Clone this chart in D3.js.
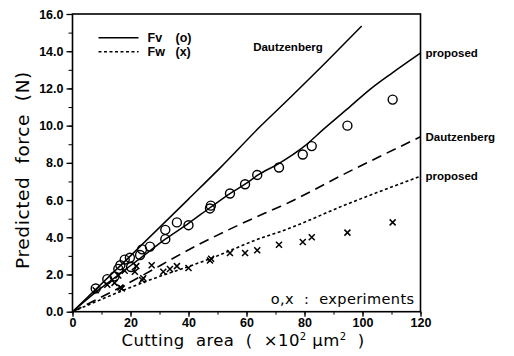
<!DOCTYPE html>
<html>
<head>
<meta charset="utf-8">
<script src="https://cdn.jsdelivr.net/npm/d3@7"></script>
<style>
  body { margin: 0; background: #fff; }
  svg text { fill: #000; white-space: pre; }
</style>
</head>
<body>
<div id="chart"></div>
<script>
// experiments: Fv (circles) and Fw (crosses), cutting area in 10^2 um^2, force in N
var fvPoints = [[8,1.25],[12,1.75],[14.5,1.9],[15.8,2.3],[16.5,2.5],[18,2.8],[19.8,2.9],[20.2,2.4],
  [23.3,3.05],[24,3.35],[26.7,3.5],[32,3.9],[32,4.4],[36,4.8],[40,4.65],[47.4,5.55],[47.7,5.7],
  [54.3,6.35],[59.5,6.85],[63.7,7.35],[71.2,7.75],[79.4,8.45],[82.5,8.9],[94.8,10.0],[110.4,11.4]];
var fwPoints = [[8,1.15],[12,1.45],[14.5,1.55],[15.8,1.95],[16.5,1.3],[17,1.25],[18,2.2],[21.5,2.15],
  [22,2.45],[24,1.7],[24.4,1.8],[27.3,2.5],[31.3,2.15],[33.6,2.3],[36,2.45],[40,2.35],[47.4,2.75],
  [47.8,2.85],[54.3,3.15],[59.5,3.15],[63.7,3.3],[71.2,3.6],[79.4,3.75],[82.5,4.0],[94.8,4.25],[110.4,4.8]];

// predicted curves
var fvDautz = [[0,0],[20,3.0],[40,6.05],[50.9,7.73],[64.7,9.95],[75,11.5],[88,13.5],[99.7,15.35]];
var fvProposed = [[0,0],[8,1.05],[16,2.0],[24,2.95],[32,3.9],[40,4.75],[47.5,5.6],[54.3,6.35],[59.5,6.85],
  [64,7.35],[71,7.95],[80,8.9],[86.5,9.8],[94.8,10.9],[102.6,11.95],[110.4,12.85],[120,13.9]];
var fwDautz = [[0,0],[20,1.6],[44,3.65],[66.4,5.3],[71.6,5.65],[95,7.5],[120,9.4]];
var fwProposed = [[0,0],[24,1.55],[47.5,2.85],[65.8,4.0],[71.6,4.3],[95,5.8],[120,7.28]];

var xTicks = [0, 20, 40, 60, 80, 100, 120];
var yTicks = [0, 2, 4, 6, 8, 10, 12, 14, 16];

var W = 514, H = 356;
var margin = { top: 14, right: 93.5, bottom: 44.3, left: 72.5 },
  width = W - margin.left - margin.right,
  height = H - margin.top - margin.bottom;

var x = d3.scaleLinear().domain([0, 120]).range([0, width]);
var y = d3.scaleLinear().domain([0, 16]).range([height, 0]);

var svg = d3.select("#chart").append("svg")
  .attr("width", W).attr("height", H);
var g = svg.append("g").attr("transform", `translate(${margin.left},${margin.top})`);

var tickFont = "'Liberation Sans', Arial, sans-serif";
var labelFont = "'DejaVu Sans', sans-serif";

// minor ticks
g.append("g")
  .attr("transform", `translate(0,${height})`)
  .call(d3.axisBottom(x).tickValues(d3.range(0, 121, 10)).tickSize(3).tickFormat(""))
  .call(a => a.select(".domain").remove());
g.append("g")
  .call(d3.axisLeft(y).tickValues(d3.range(0, 17, 1)).tickSize(4).tickFormat(""))
  .call(a => a.select(".domain").remove());

// major ticks
var xAxis = g.append("g")
  .attr("transform", `translate(0,${height})`)
  .call(d3.axisBottom(x).tickValues(xTicks).tickSize(5).tickPadding(1).tickFormat(d3.format("d")));
var yAxis = g.append("g")
  .call(d3.axisLeft(y).tickValues(yTicks).tickSize(6).tickPadding(3).tickFormat(d3.format(".1f")));

[xAxis, yAxis].forEach(a => {
  a.selectAll("text").style("font-family", tickFont).style("font-size", "12.5px")
    .style("font-weight", "bold").attr("fill", "#000");
  a.selectAll("line").attr("stroke", "#000").attr("stroke-width", 1.3);
  a.select(".domain").remove();
});

// frame
g.append("rect").attr("x", 0).attr("y", 0).attr("width", width).attr("height", height)
  .attr("fill", "none").attr("stroke", "#000").attr("stroke-width", 1.6);

var line = d3.line().curve(d3.curveMonotoneX).x(d => x(d[0])).y(d => y(d[1]));

g.append("path").datum(fvDautz).attr("d", line)
  .attr("fill", "none").attr("stroke", "#000").attr("stroke-width", 1.5);
g.append("path").datum(fvProposed).attr("d", line)
  .attr("fill", "none").attr("stroke", "#000").attr("stroke-width", 1.5);
g.append("path").datum(fwDautz).attr("d", line)
  .attr("fill", "none").attr("stroke", "#000").attr("stroke-width", 1.6)
  .attr("stroke-dasharray", "10,6");
g.append("path").datum(fwProposed).attr("d", line)
  .attr("fill", "none").attr("stroke", "#000").attr("stroke-width", 1.6)
  .attr("stroke-dasharray", "3,2.5");

// circles
g.selectAll(".fv").data(fvPoints).enter().append("circle")
  .attr("class", "fv")
  .attr("cx", d => x(d[0])).attr("cy", d => y(d[1])).attr("r", 4.5)
  .attr("fill", "none").attr("stroke", "#000").attr("stroke-width", 1.4);

// crosses
var cs = 3;
g.selectAll(".fw").data(fwPoints).enter().append("path")
  .attr("class", "fw")
  .attr("d", d => {
    var cx = x(d[0]), cy = y(d[1]);
    return `M${cx - cs},${cy - cs}L${cx + cs},${cy + cs}M${cx - cs},${cy + cs}L${cx + cs},${cy - cs}`;
  })
  .attr("fill", "none").attr("stroke", "#000").attr("stroke-width", 1.5);

// curve labels
var lblStyle = s => s.style("font-family", tickFont).style("font-size", "11.5px").style("font-weight", "bold");
g.append("text").attr("x", x(62.3)).attr("y", 37).text("Dautzenberg").call(lblStyle);
g.append("text").attr("x", width + 5).attr("y", y(13.9) + 4).text("proposed").call(lblStyle);
g.append("text").attr("x", width + 5).attr("y", y(9.4) + 4).text("Dautzenberg").call(lblStyle);
g.append("text").attr("x", width + 5).attr("y", y(7.28) + 4).text("proposed").call(lblStyle);

// legend
var leg = g.append("g");
leg.append("line").attr("x1", 26).attr("x2", 66).attr("y1", 23.7).attr("y2", 23.7)
  .attr("stroke", "#000").attr("stroke-width", 1.4);
leg.append("line").attr("x1", 26).attr("x2", 66).attr("y1", 37.7).attr("y2", 37.7)
  .attr("stroke", "#000").attr("stroke-width", 1.4).attr("stroke-dasharray", "3,2.5");
var legStyle = s => s.style("font-family", tickFont).style("font-size", "12.5px").style("font-weight", "bold");
leg.append("text").attr("x", 75).attr("y", 28).text("Fv").call(legStyle);
leg.append("text").attr("x", 75).attr("y", 42).text("Fw").call(legStyle);
leg.append("text").attr("x", 103).attr("y", 28).text("(o)").call(legStyle);
leg.append("text").attr("x", 103).attr("y", 42).text("(x)").call(legStyle);

// experiments note
g.append("text").attr("x", width - 6).attr("y", height - 8).attr("text-anchor", "end")
  .style("font-family", labelFont).style("font-size", "14.5px").style("letter-spacing", "0.4px")
  .text("o,x  :  experiments");

// axis titles
svg.append("text")
  .attr("transform", `translate(29,170) rotate(-90)`)
  .attr("text-anchor", "middle")
  .style("font-family", labelFont).style("font-size", "18.5px").style("letter-spacing", "0.6px")
  .text("Predicted  force  (N)");

var xt = svg.append("text")
  .attr("x", 243).attr("y", 346)
  .attr("text-anchor", "middle")
  .style("font-family", labelFont).style("font-size", "16.5px").style("letter-spacing", "0.4px");
xt.append("tspan").text("Cutting  area  (  ×10");
xt.append("tspan").attr("dy", -6).style("font-size", "10px").text("2");
xt.append("tspan").attr("dy", 6).text(" μm");
xt.append("tspan").attr("dy", -6).style("font-size", "10px").text("2");
xt.append("tspan").attr("dy", 6).text("  )");
</script>
</body>
</html>
